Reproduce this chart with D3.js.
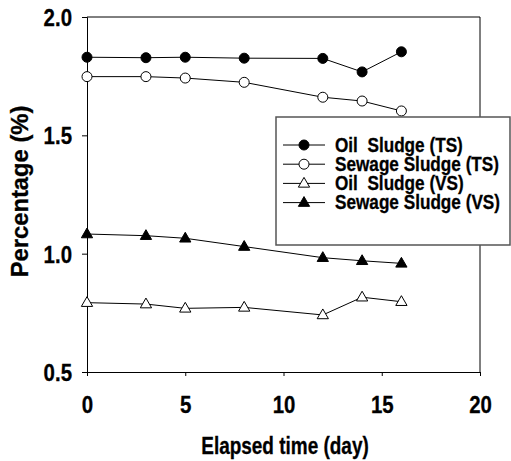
<!DOCTYPE html>
<html>
<head>
<meta charset="utf-8">
<script src="https://cdn.jsdelivr.net/npm/d3@7"></script>
<style>
  body { margin: 0; background: #fff; }
  svg { display: block; }
  svg text { font-family: "Liberation Sans", Arial, sans-serif; font-weight: 700; fill: #000; stroke: #000; stroke-width: 0.3px; white-space: pre; }
  .tick-label { font-size: 24px; }
  .axis-title { font-size: 24px; }
  .legend-text { font-size: 19.5px; }
</style>
</head>
<body>
<div id="chart"></div>
<script>
// Elapsed days
const days = [0, 3, 5, 8, 12, 14, 16];

// Series values (%)
const oilTS = [1.83, 1.828, 1.83, 1.826, 1.825, 1.768, 1.853];
const sewageTS = [1.748, 1.748, 1.742, 1.724, 1.661, 1.645, 1.603];
const oilVS = [0.793, 0.787, 0.769, 0.773, 0.741, 0.816, 0.797];
const sewageVS = [1.083, 1.076, 1.065, 1.03, 0.983, 0.97, 0.959];

const seriesNames = ['Oil  Sludge (TS)', 'Sewage Sludge (TS)', 'Oil  Sludge (VS)', 'Sewage Sludge (VS)'];
const xTicks = [0, 5, 10, 15, 20];
const yTicks = [0.5, 1.0, 1.5, 2.0];

const series = [
  { name: seriesNames[0], values: oilTS, shape: 'circle', fill: '#000' },
  { name: seriesNames[1], values: sewageTS, shape: 'circle', fill: '#fff' },
  { name: seriesNames[2], values: oilVS, shape: 'triangle', fill: '#fff' },
  { name: seriesNames[3], values: sewageVS, shape: 'triangle', fill: '#000' },
];

const width = 511, height = 461;
const margin = { top: 17, right: 31, bottom: 89, left: 87 };

// horizontal squeeze of the original's condensed bold lettering
const SQUEEZE = { tick: 0.85, xTitle: 0.79, yTitle: 0.99, legend: 0.88 };

const svg = d3.select('#chart').append('svg')
  .attr('width', width)
  .attr('height', height);

function squeeze(sel, k) {
  sel.each(function () {
    const w = this.getComputedTextLength();
    d3.select(this)
      .attr('textLength', (w * k).toFixed(1))
      .attr('lengthAdjust', 'spacingAndGlyphs');
  });
}

const x = d3.scaleLinear().domain([0, 20]).range([margin.left, width - margin.right]);
const y = d3.scaleLinear().domain([0.5, 2.0]).range([height - margin.bottom, margin.top]);

// Frame (top and right lines)
svg.append('path')
  .attr('d', `M${x(0)},${y(2)}H${x(20)}V${y(0.5)}`)
  .attr('fill', 'none')
  .attr('stroke', '#000');

// Axes
const xAxis = svg.append('g')
  .attr('transform', `translate(0,${y(0.5)})`)
  .call(d3.axisBottom(x).tickValues(xTicks).tickFormat(d3.format('d')).tickSizeOuter(0).tickSize(4).tickPadding(20));
xAxis.attr('font-family', null).attr('font-size', null);
xAxis.selectAll('text').attr('class', 'tick-label').call(squeeze, SQUEEZE.tick);

const yAxis = svg.append('g')
  .attr('transform', `translate(${x(0)},0)`)
  .call(d3.axisLeft(y).tickValues(yTicks).tickFormat(d3.format('.1f')).tickSizeOuter(0).tickSize(5).tickPadding(10));
yAxis.attr('font-family', null).attr('font-size', null);
yAxis.selectAll('text').attr('class', 'tick-label').attr('dy', '0.36em').call(squeeze, SQUEEZE.tick);

// Axis titles
svg.append('text')
  .attr('class', 'axis-title')
  .attr('x', 285)
  .attr('y', 454)
  .attr('text-anchor', 'middle')
  .text('Elapsed time (day)')
  .call(squeeze, SQUEEZE.xTitle);

svg.append('text')
  .attr('class', 'axis-title')
  .attr('transform', 'translate(28,191.5) rotate(-90)')
  .attr('text-anchor', 'middle')
  .text('Percentage (%)')
  .call(squeeze, SQUEEZE.yTitle);

// Lines and markers
const line = d3.line()
  .x((d, i) => x(days[i]))
  .y(d => y(d));

const tri = d3.symbol().type(d3.symbolTriangle).size(55);

function drawMarker(g, s) {
  if (s.shape === 'circle') {
    g.append('circle').attr('r', 5);
  } else {
    g.append('path').attr('d', tri).attr('transform', 'translate(0,0.5)');
  }
  g.selectAll('circle, path')
    .attr('fill', s.fill)
    .attr('stroke', '#000')
    .attr('stroke-width', 1);
}

series.forEach(s => {
  svg.append('path')
    .datum(s.values)
    .attr('d', line)
    .attr('fill', 'none')
    .attr('stroke', '#000')
    .attr('stroke-width', 1);

  s.values.forEach((v, i) => {
    const g = svg.append('g').attr('transform', `translate(${x(days[i])},${y(v)})`);
    drawMarker(g, s);
  });
});

// Legend
const legend = svg.append('g').attr('transform', 'translate(276,117)');
legend.append('rect')
  .attr('width', 234)
  .attr('height', 128)
  .attr('fill', '#fff')
  .attr('stroke', '#555')
  .attr('stroke-width', 1.5);

series.forEach((s, i) => {
  const row = legend.append('g').attr('transform', `translate(0,${28 + i * 19.2})`);
  row.append('line')
    .attr('x1', 7).attr('x2', 49)
    .attr('stroke', '#000');
  const m = row.append('g').attr('transform', 'translate(28,0)');
  drawMarker(m, s);
  row.append('text')
    .attr('class', 'legend-text')
    .attr('x', 59)
    .attr('y', 6.5)
    .text(s.name)
    .call(squeeze, SQUEEZE.legend);
});
</script>
</body>
</html>
